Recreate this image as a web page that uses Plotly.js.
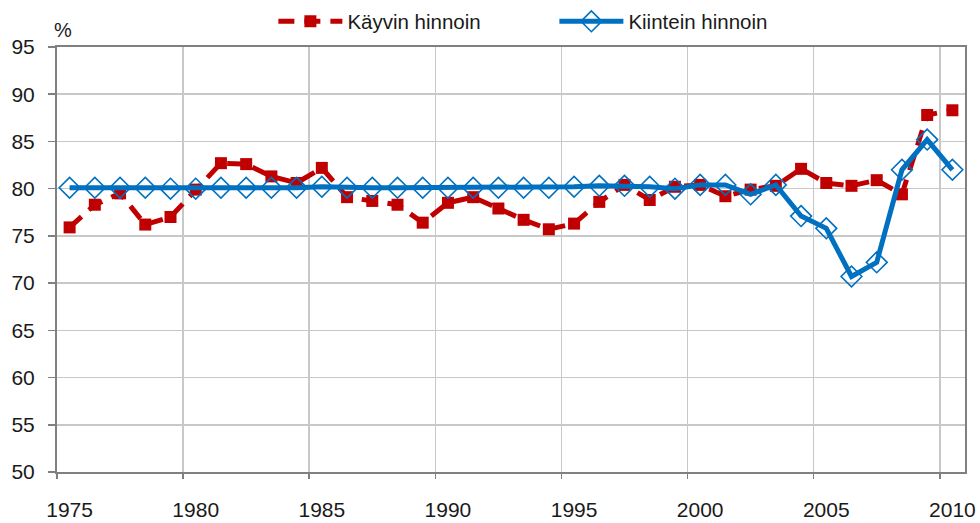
<!DOCTYPE html>
<html>
<head>
<meta charset="utf-8">
<script src="https://cdn.plot.ly/plotly-3.0.1.min.js"></script>
<style>html,body{margin:0;padding:0;background:#fff}#chart{width:980px;height:523px}</style>
</head>
<body>
<div id="chart"></div>
<script>
const years = [1975,1976,1977,1978,1979,1980,1981,1982,1983,1984,1985,1986,1987,1988,1989,1990,1991,1992,1993,1994,1995,1996,1997,1998,1999,2000,2001,2002,2003,2004,2005,2006,2007,2008,2009,2010];
const kayvin = [75.9,78.3,79.5,76.2,77.0,79.9,82.7,82.6,81.3,80.6,82.2,79.1,78.7,78.3,76.4,78.5,79.1,77.9,76.7,75.7,76.3,78.6,80.4,78.8,80.2,80.4,79.2,79.9,80.3,82.1,80.6,80.3,80.9,79.4,87.8,88.3];
const kiintein = [80.1,80.1,80.1,80.1,80.0,80.0,80.1,80.1,80.1,80.1,80.2,80.1,80.1,80.1,80.1,80.1,80.1,80.1,80.1,80.1,80.2,80.3,80.3,80.2,80.0,80.4,80.4,79.4,80.4,77.1,75.8,70.7,72.2,82.0,85.2,82.0];
const labelYears = [1975,1980,1985,1990,1995,2000,2005,2010];
const gridYears = [1974.5,1979.5,1984.5,1989.5,1994.5,1999.5,2004.5,2009.5];
const yTicks = [50,55,60,65,70,75,80,85,90,95];
const seriesNames = ['Käyvin hinnoin','Kiintein hinnoin'];

const FONT = 'Liberation Sans, Arial, sans-serif';
const traces = [
  {x: years, y: kayvin, name: seriesNames[0], type: 'scatter', mode: 'lines+markers',
   line: {color: '#C00000', width: 5, dash: '16px,10px'},
   marker: {symbol: 'square', size: 12, color: '#C00000'}},
  {x: years, y: kiintein, name: seriesNames[1], type: 'scatter', mode: 'lines+markers',
   line: {color: '#0070C0', width: 5},
   marker: {symbol: 'diamond-open', size: 16, color: '#0070C0', line: {width: 1.6, color: '#0070C0'}}},
  {x: [1980], y: [50], xaxis: 'x2', showlegend: false, hoverinfo: 'skip', mode: 'markers', marker: {opacity: 0}}
];

const layout = {
  width: 980, height: 523,
  margin: {l: 57, r: 15, t: 47, b: 51, autoexpand: false},
  paper_bgcolor: '#fff', plot_bgcolor: '#fff',
  font: {family: FONT, size: 21, color: '#1a1a1a'},
  showlegend: true,
  legend: {orientation: 'h', x: 0.2383, xanchor: 'left', y: 1.06, yanchor: 'middle',
           itemwidth: 64, entrywidth: 202, entrywidthmode: 'pixels',
           font: {family: FONT, size: 20.5, color: '#1a1a1a'}, bgcolor: 'rgba(0,0,0,0)'},
  xaxis: {range: [1974.5, 2010.5], tickmode: 'array', tickvals: labelYears, ticktext: labelYears.map(String),
          showgrid: false, ticks: '', zeroline: false, showline: true, mirror: true,
          linecolor: '#808080', linewidth: 2, ticklabelstandoff: 18, tickfont: {size: 21}},
  xaxis2: {range: [1974.5, 2010.5], overlaying: 'x', side: 'bottom', tickmode: 'array', tickvals: gridYears,
           showticklabels: false, showgrid: true, gridcolor: '#C8C8C8', gridwidth: 1.5,
           ticks: 'outside', ticklen: 6, tickcolor: '#808080', tickwidth: 1.5, zeroline: false, showline: false},
  yaxis: {range: [50, 95], tickmode: 'array', tickvals: yTicks, showgrid: true, gridcolor: '#C8C8C8', gridwidth: 1.5,
          ticks: 'outside', ticklen: 7, tickcolor: '#808080', tickwidth: 1.5, zeroline: false,
          showline: true, mirror: true, linecolor: '#808080', linewidth: 2, ticklabelstandoff: 9, tickfont: {size: 21}},
  annotations: [{text: '%', xref: 'paper', yref: 'paper', x: -0.0055, y: 1.01, xanchor: 'left', yanchor: 'bottom',
                 showarrow: false, font: {family: FONT, size: 20, color: '#1a1a1a'}}]
};

Plotly.newPlot('chart', traces, layout, {staticPlot: true, displayModeBar: false});
</script>
</body>
</html>
